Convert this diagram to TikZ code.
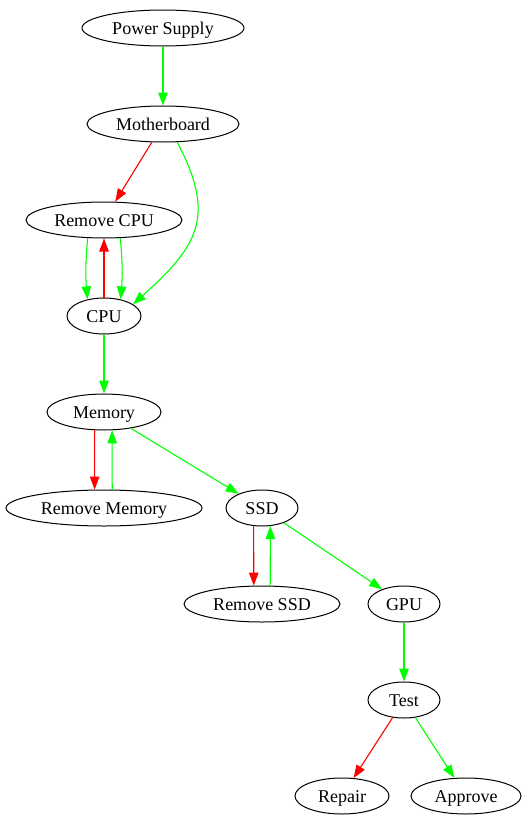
\documentclass[tikz,border=0pt]{standalone}
\usepackage{fontspec}
\setmainfont{Liberation Serif}
\usetikzlibrary{shapes.geometric,arrows.meta}
\definecolor{gvgreen}{RGB}{0,255,0}
\definecolor{gvred}{RGB}{255,0,0}
\begin{document}
\begin{tikzpicture}[x=1pt,y=1pt,>={Triangle[length=13pt,width=9.5pt]},
    box/.style={draw, ellipse, line width=1pt, inner sep=0pt, minimum height=36pt, text height=12.6pt, text depth=0pt, font=\fontsize{18}{20}\selectfont},
    ok/.style={->, gvgreen, line width=1.1pt},
    bad/.style={->, gvred, line width=1.1pt}]
    \useasboundingbox (0,0) rectangle (527,-827);
    \foreach \id/\x/\y/\w/\txt in {psu/163/28/162/Power Supply, mb/163/124/152/Motherboard,
        rcpu/104/220/156/Remove CPU, cpu/104/316/74/CPU, mem/104/412/114/Memory,
        rmem/104/508/196/Remove Memory, ssd/262/508/72/SSD, rssd/262/604/156/Remove SSD,
        gpu/404/604/72/GPU, test/404/700/72/Test, repair/342/796/94/Repair, approve/466/796/110/Approve}{
        \node[box, minimum width=\w pt] (\id) at (\x,-\y) {\txt};
    }
    \draw[ok] (psu) -- (mb);
    \draw[bad] (mb) -- (rcpu);
    \draw[ok] (mb.308) to[out=-62,in=42,looseness=1.3] (cpu.22); % long way round
    \draw[ok] (rcpu.228) to[bend right=5] (cpu.135);
    \draw[bad] (cpu) -- (rcpu);
    \draw[ok] (rcpu.312) to[bend left=5] (cpu.45);
    \draw[ok] (cpu) -- (mem);
    \draw[bad] (mem.243) -- (rmem.117);
    \draw[ok] (rmem.66) -- (mem.294);
    \draw[ok] (mem) -- (ssd);
    \draw[bad] (ssd.245) -- (rssd.114);
    \draw[ok] (rssd.66) -- (ssd.295);
    \draw[ok] (ssd) -- (gpu);
    \draw[ok] (gpu) -- (test);
    \draw[bad] (test) -- (repair);
    \draw[ok] (test) -- (approve);
\end{tikzpicture}
\end{document}
